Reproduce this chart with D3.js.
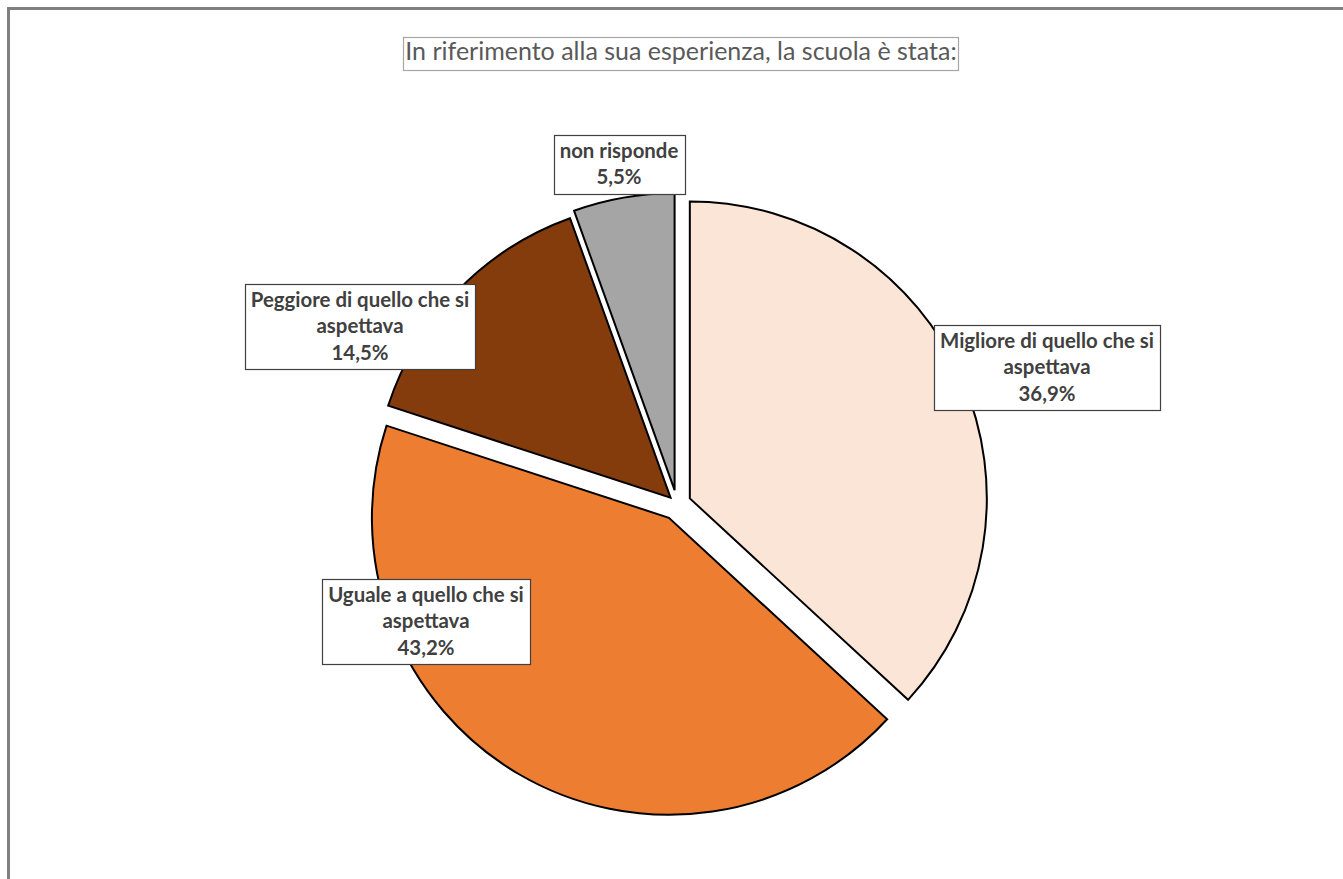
<!DOCTYPE html>
<html>
<head>
<meta charset="utf-8">
<script src="https://cdn.jsdelivr.net/npm/d3@7"></script>
<style>
  html, body { margin: 0; padding: 0; background: #ffffff; }
  svg { display: block; }
</style>
</head>
<body>
<svg id="chart" width="1343" height="879"></svg>
<script>
// ---- data ----
const title = "In riferimento alla sua esperienza, la scuola è stata:";
const categories = ["Migliore di quello che si aspettava", "Uguale a quello che si aspettava", "Peggiore di quello che si aspettava", "non risponde"];
const labelLines = [["Migliore di quello che si", "aspettava"], ["Uguale a quello che si", "aspettava"], ["Peggiore di quello che si", "aspettava"], ["non risponde"]];
const values = [36.9, 43.2, 14.5, 5.5];
const valueLabels = ["36,9%", "43,2%", "14,5%", "5,5%"];

// ---- styles / layout ----
const colors = ["#FBE5D6", "#ED7D31", "#843C0C", "#A5A5A5"];
const explode = [14, 16, 9, 14];
const labelOffsets = [[370, -137], [-251, 117], [-317, -178], [-58, -340]];
const cx = 677, cy = 504, radius = 297;
const fontFamily = "Lato, 'Open Sans', sans-serif";

const svg = d3.select("#chart");

// outer frame
svg.append("rect")
  .attr("x", 8.5).attr("y", 8.5)
  .attr("width", 1400).attr("height", 1000)
  .attr("fill", "#ffffff")
  .attr("stroke", "#808080").attr("stroke-width", 3);

// title
const tg = svg.append("g");
tg.append("rect")
  .attr("x", 403.5).attr("y", 37.5)
  .attr("width", 555).attr("height", 33)
  .attr("fill", "#ffffff")
  .attr("stroke", "#a6a6a6").attr("stroke-width", 1.2);
tg.append("text")
  .attr("x", 681).attr("y", 60)
  .attr("text-anchor", "middle")
  .attr("font-family", fontFamily)
  .attr("font-size", 25)
  .attr("fill", "#595959")
  .text(title);

// pie
const pie = d3.pie().sort(null).value(d => d)(values);
const arc = d3.arc().innerRadius(0).outerRadius(radius);
const g = svg.append("g").attr("transform", `translate(${cx},${cy})`);

g.selectAll("path.slice")
  .data(pie)
  .join("path")
  .attr("class", "slice")
  .attr("transform", (d, i) => {
    const a = (d.startAngle + d.endAngle) / 2;
    return `translate(${Math.sin(a) * explode[i]},${-Math.cos(a) * explode[i]})`;
  })
  .attr("d", arc)
  .attr("fill", (d, i) => colors[i])
  .attr("stroke", "#000000")
  .attr("stroke-width", 2)
  .attr("stroke-linejoin", "miter");

// labels
const lineH = 26.5, padTop = 23, padBottom = 9, padX = 6;
const fs = 20.4;
pie.forEach((d, i) => {
  const lines = labelLines[i].concat([valueLabels[i]]);
  const lx = cx + labelOffsets[i][0], ly = cy + labelOffsets[i][1];
  const h = padTop + (lines.length - 1) * lineH + padBottom;
  const top = ly - h / 2;
  const lg = svg.append("g");
  const box = lg.append("rect");
  const text = lg.append("text")
    .attr("font-family", fontFamily)
    .attr("font-size", fs)
    .attr("font-weight", "bold")
    .attr("fill", "#404040")
    .attr("text-anchor", "middle");
  lines.forEach((ln, k) => {
    text.append("tspan")
      .attr("x", lx)
      .attr("y", top + padTop + lineH * k)
      .text(ln);
  });
  const bb = text.node().getBBox();
  box.attr("x", Math.round(lx - bb.width / 2 - padX) + 0.5)
    .attr("y", Math.round(top) + 0.5)
    .attr("width", Math.round(bb.width + padX * 2))
    .attr("height", Math.round(h))
    .attr("fill", "#ffffff")
    .attr("stroke", "#404040")
    .attr("stroke-width", 1.2);
});
</script>
</body>
</html>
